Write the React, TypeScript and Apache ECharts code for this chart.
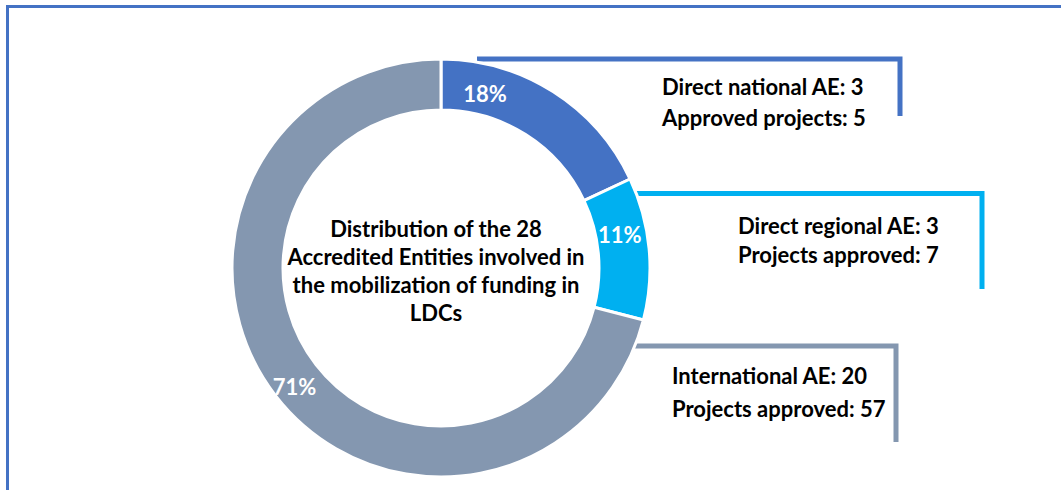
import React, { useEffect, useRef } from "react";
import * as echarts from "echarts";

const categories = ["Direct national AE", "Direct regional AE", "International AE"];
const shares = [18, 11, 71];
const colors = ["#4472C4", "#00B0F0", "#8497B0"];
const labelOffsets = [[-56, -17], [-7, -16], [1, 4]];
const centerText = [
  "Distribution of the 28",
  "Accredited Entities involved in",
  "the mobilization of funding in",
  "LDCs",
];
const calloutLines = [
  ["Direct national AE: 3", "Approved projects: 5"],
  ["Direct regional AE: 3", "Projects approved: 7"],
  ["International AE: 20", "Projects approved: 57"],
];

const FONT = "Lato, 'Open Sans', sans-serif";

export default function App() {
  const ref = useRef<HTMLDivElement>(null);
  useEffect(() => {
    if (!ref.current) return;
    const chart = echarts.init(ref.current, undefined, { renderer: "svg" });

    const calloutPos = [
      { x: 662, y: [86, 117] },
      { x: 738, y: [225, 254] },
      { x: 672, y: [375, 408] },
    ];
    const brackets = [
      [[477, 59], [900, 59], [900, 116]],
      [[633, 193.5], [982, 193.5], [982, 289]],
      [[633, 346], [896, 346], [896, 442]],
    ];

    const graphics: any[] = [
      {
        type: "rect",
        shape: { x: 7.5, y: 6.5, width: 1200, height: 700 },
        style: { fill: "none", stroke: "#4472C4", lineWidth: 3 },
        silent: true,
      },
    ];
    brackets.forEach((pts, i) => {
      graphics.push({
        type: "polyline",
        shape: { points: pts },
        style: { stroke: colors[i], lineWidth: 5, fill: "none" },
        z: 1,
      });
    });
    calloutLines.forEach((lines, i) => {
      lines.forEach((t, j) => {
        graphics.push({
          type: "text",
          x: calloutPos[i].x,
          y: calloutPos[i].y[j],
          style: {
            text: t,
            font: `bold 22px ${FONT}`,
            fill: "#000",
            textAlign: "left",
            textVerticalAlign: "middle",
          },
          z: 5,
        });
      });
    });
    centerText.forEach((t, j) => {
      graphics.push({
        type: "text",
        x: 436,
        y: 228 + j * 28,
        style: {
          text: t,
          font: `bold 22px ${FONT}`,
          fill: "#000",
          textAlign: "center",
          textVerticalAlign: "middle",
        },
        z: 5,
      });
    });

    chart.setOption({
      animation: false,
      graphic: graphics,
      series: [
        {
          type: "pie",
          center: [441, 268],
          radius: [158, 209],
          startAngle: 90,
          clockwise: true,
          z: 3,
          itemStyle: { borderColor: "#fff", borderWidth: 3 },
          label: {
            show: true,
            position: "inside",
            formatter: (p: any) => `${p.value}%`,
            color: "#fff",
            fontFamily: FONT,
            fontWeight: "bold",
            fontSize: 22,
          },
          labelLayout: (p: any) => ({
            dx: labelOffsets[p.dataIndex][0],
            dy: labelOffsets[p.dataIndex][1],
          }),
          emphasis: { disabled: true },
          data: categories.map((c, i) => ({
            name: c,
            value: shares[i],
            itemStyle: { color: colors[i] },
          })),
        },
      ],
    });
    return () => chart.dispose();
  }, []);
  return (
    <div
      ref={ref}
      style={{ position: "fixed", left: 0, top: 0, width: 1061, height: 490, background: "#fff" }}
    />
  );
}
